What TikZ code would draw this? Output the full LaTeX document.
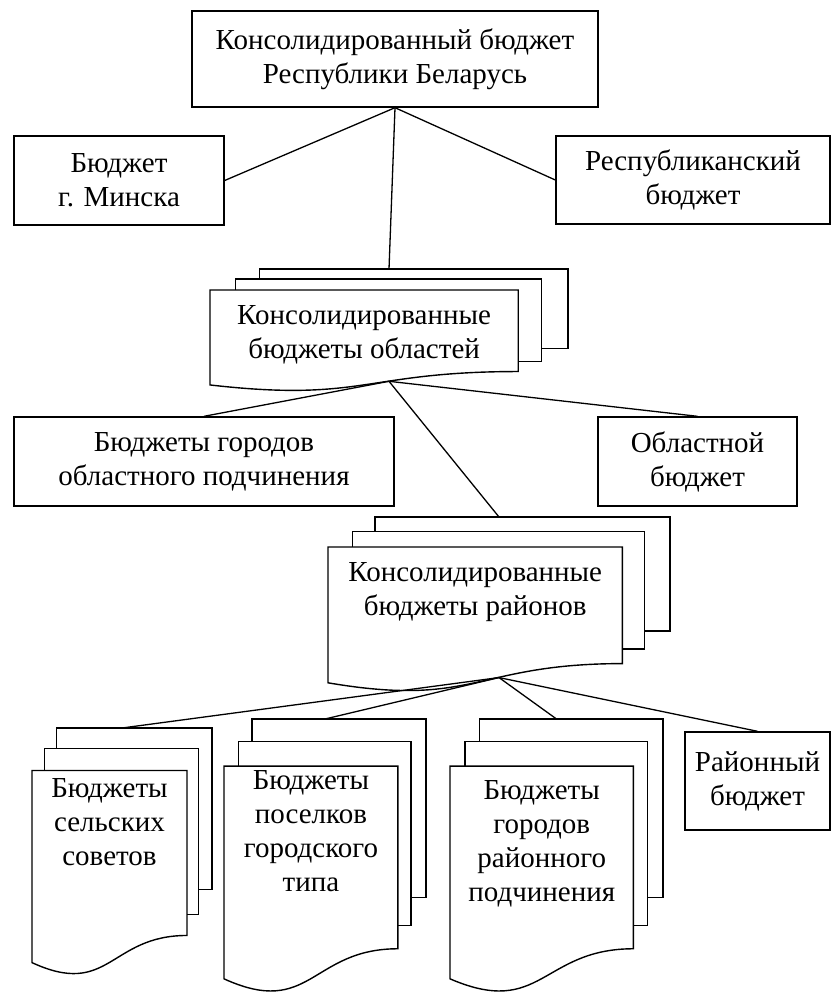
\documentclass[tikz,border=0pt]{standalone}
\usepackage{fontspec}
\setmainfont{Liberation Serif}

\tikzset{
  txt/.style={font=\fontsize{29}{34}\selectfont, align=center},
  bbox/.style={txt, draw, line width=1.4pt, inner sep=0pt},
  page/.style={draw, fill=white, line width=1.4pt, line join=miter},
  link/.style={line width=1.3pt},
}

% stack of three pages: name, left, top, width, height, text shift, text
\newcommand{\multidoc}[7]{
  \begin{scope}[shift={(#2,#3)}, x=#4pt, y=-#5pt]
    \draw[page] (0.1376,0) rectangle (1,0.6663);
    \draw[page] (0.0709,0.0840) rectangle (0.9259,0.7711);
    \draw[page] (0,0.1756) -- (0.8609,0.1756) -- (0.8609,0.8573)
      .. controls (0.4305,0.8573) and (0.4305,1.1170) .. (0,0.9695) -- cycle;
    \coordinate (#1-n) at (0.5,0);
    \coordinate (#1-s) at (0.5,0.939);
    \node[txt, anchor=north, inner sep=0pt, yshift=-#6pt] (#1) at (0.4305,0.1756) {#7};
  \end{scope}
}

\begin{document}
\begin{tikzpicture}[x=1pt, y=-1pt]
\useasboundingbox (0,0) rectangle (832,992);

% upper level
\node[bbox, minimum width=406pt, minimum height=96pt] (cons) at (395,59)
  {Консолидированный бюджет\\Республики Беларусь};
\node[bbox, minimum width=210pt, minimum height=89pt] (minsk) at (119,180.5)
  {Бюджет\\г. Минска};
\node[bbox, minimum width=274pt, minimum height=88pt] (resp) at (693,180)
  {Республиканский\\бюджет};

% oblasts
\multidoc{obl}{210}{269}{358}{119.6}{15}{Консолидированные\\бюджеты областей}
\node[bbox, minimum width=380pt, minimum height=89pt] (oblcity) at (204,461.5)
  {Бюджеты городов\\областного подчинения};
\node[bbox, minimum width=199pt, minimum height=89pt] (oblbud) at (697.5,461.5)
  {Областной\\бюджет};

% districts
\multidoc{rai}{328}{517}{342}{171}{15}{Консолидированные\\бюджеты районов}
\multidoc{sel}{32}{728}{180}{242}{8}{Бюджеты\\сельских\\советов}
\multidoc{pos}{224}{719}{202}{268}{4}{Бюджеты\\поселков\\городского\\типа}
\multidoc{gor}{450}{719}{213}{268}{14}{Бюджеты\\городов\\районного\\подчинения}
\node[bbox, minimum width=145pt, minimum height=98pt] (raibud) at (757.5,781)
  {Районный\\бюджет};

\draw[link] (cons.south) -- (minsk.east);
\draw[link] (cons.south) -- (resp.west);
\draw[link] (cons.south) -- (obl-n);
\draw[link] (obl-s) -- (oblcity.north);
\draw[link] (obl-s) -- (rai-n);
\draw[link] (obl-s) -- (oblbud.north);
\draw[link] (rai-s) -- (sel-n);
\draw[link] (rai-s) -- (pos-n);
\draw[link] (rai-s) -- (gor-n);
\draw[link] (rai-s) -- (raibud.north);
\end{tikzpicture}
\end{document}
